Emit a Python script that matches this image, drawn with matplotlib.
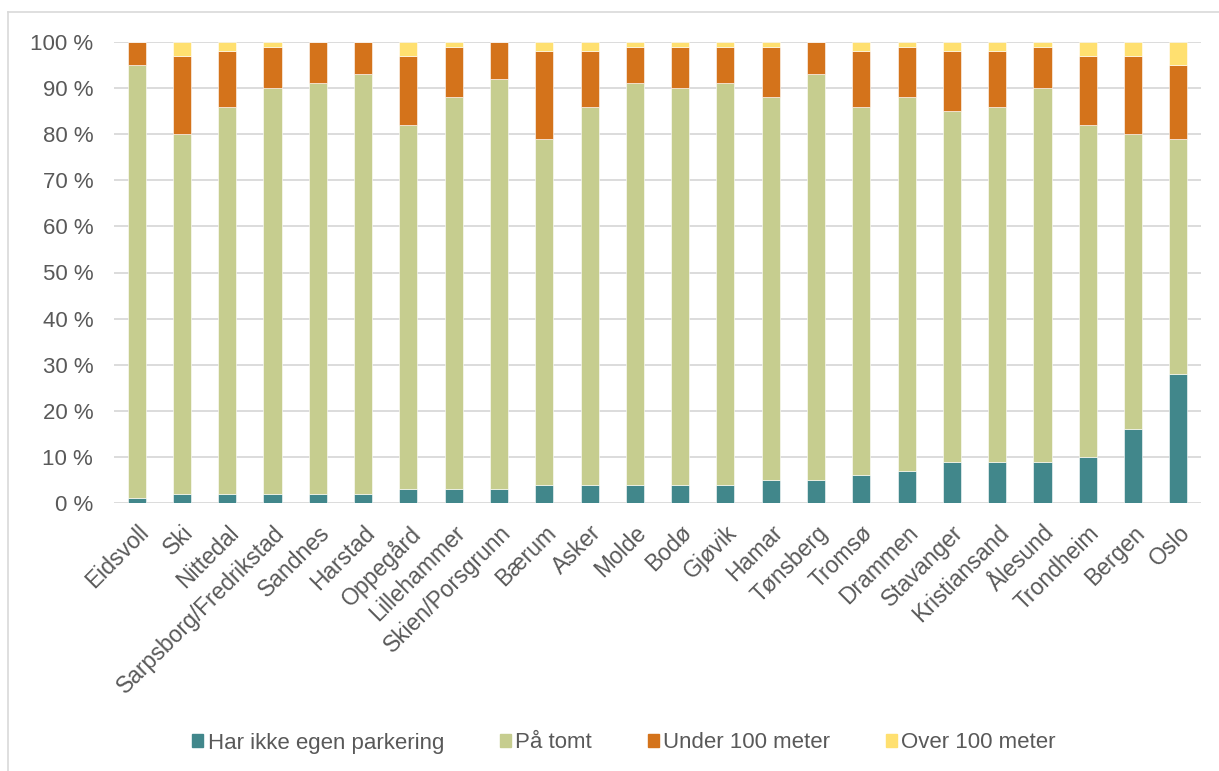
import matplotlib
matplotlib.use("Agg")
import matplotlib.pyplot as plt
from matplotlib.lines import Line2D
import numpy as np

plt.rcParams['font.family'] = ['Liberation Sans', 'DejaVu Sans']

cities = ["Eidsvoll", "Ski", "Nittedal", "Sarpsborg/Fredrikstad", "Sandnes", "Harstad",
          "Oppegård", "Lillehammer", "Skien/Porsgrunn", "Bærum", "Asker", "Molde",
          "Bodø", "Gjøvik", "Hamar", "Tønsberg", "Tromsø", "Drammen", "Stavanger",
          "Kristiansand", "Ålesund", "Trondheim", "Bergen", "Oslo"]

ingen = [1, 2, 2, 2, 2, 2, 3, 3, 3, 4, 4, 4, 4, 4, 5, 5, 6, 7, 9, 9, 9, 10, 16, 28]
tomt = [94, 78, 84, 88, 89, 91, 79, 85, 89, 75, 82, 87, 86, 87, 83, 88, 80, 81, 76, 77, 81, 72, 64, 51]
under100 = [5, 17, 12, 9, 9, 7, 15, 11, 8, 19, 12, 8, 9, 8, 11, 7, 12, 11, 13, 12, 9, 15, 17, 16]
over100 = [0, 3, 2, 1, 0, 0, 3, 1, 0, 2, 2, 1, 1, 1, 1, 0, 2, 1, 2, 2, 1, 3, 3, 5]

series = [
    ("Har ikke egen parkering", ingen, "#41878b"),
    ("På tomt", tomt, "#c6cd8f"),
    ("Under 100 meter", under100, "#d4731b"),
    ("Over 100 meter", over100, "#ffe070"),
]

W, H = 1219, 771
fig = plt.figure(figsize=(W / 100, H / 100), dpi=100)
ax = fig.add_axes([114 / W, 1 - 503 / H, (1201 - 114) / W, (503 - 42) / H])

x = np.arange(len(cities))
bottom = np.zeros(len(cities))
for name, vals, color in series:
    vals = np.array(vals, dtype=float)
    ax.bar(x, vals, bottom=bottom, width=0.4, color=color, label=name,
           edgecolor="white", linewidth=0.4, zorder=3)
    bottom += vals

ax.set_xlim(-0.5, len(cities) - 0.5)
ax.set_ylim(0, 100)
ax.set_yticks(np.arange(0, 101, 10))
ax.set_yticklabels([f"{v} %" for v in range(0, 101, 10)])
ax.yaxis.grid(True, color="#d9d9d9", linewidth=1.3, zorder=0)
ax.set_axisbelow(True)
for s in ax.spines.values():
    s.set_visible(False)
ax.tick_params(axis="both", length=0, labelsize=16, labelcolor="#595959")
ax.tick_params(axis="y", pad=15)

ax.set_xticks(x)
ax.set_xticklabels(cities, rotation=45, ha="right", va="top", rotation_mode="anchor",
                   fontsize=16.5)
ax.tick_params(axis="x", pad=13)

handles = [plt.Rectangle((0, 0), 1, 1, color=c) for _, _, c in series]
fig.legend(handles, [n for n, _, _ in series], loc="center", bbox_to_anchor=(624 / W, 1 - 743 / H),
           ncol=4, frameon=False, fontsize=16, labelcolor="#595959",
           handlelength=0.5, handleheight=0.5, handletextpad=0.2, columnspacing=2.5)

# outer frame lines (top and left)
fig.add_artist(Line2D([8 / W, 1], [1 - 12 / H, 1 - 12 / H], color="#d9d9d9", linewidth=1.2,
                      transform=fig.transFigure))
fig.add_artist(Line2D([8 / W, 8 / W], [0, 1 - 12 / H], color="#d9d9d9", linewidth=1.2,
                      transform=fig.transFigure))

fig.savefig("out.png", dpi=100, facecolor="white")
